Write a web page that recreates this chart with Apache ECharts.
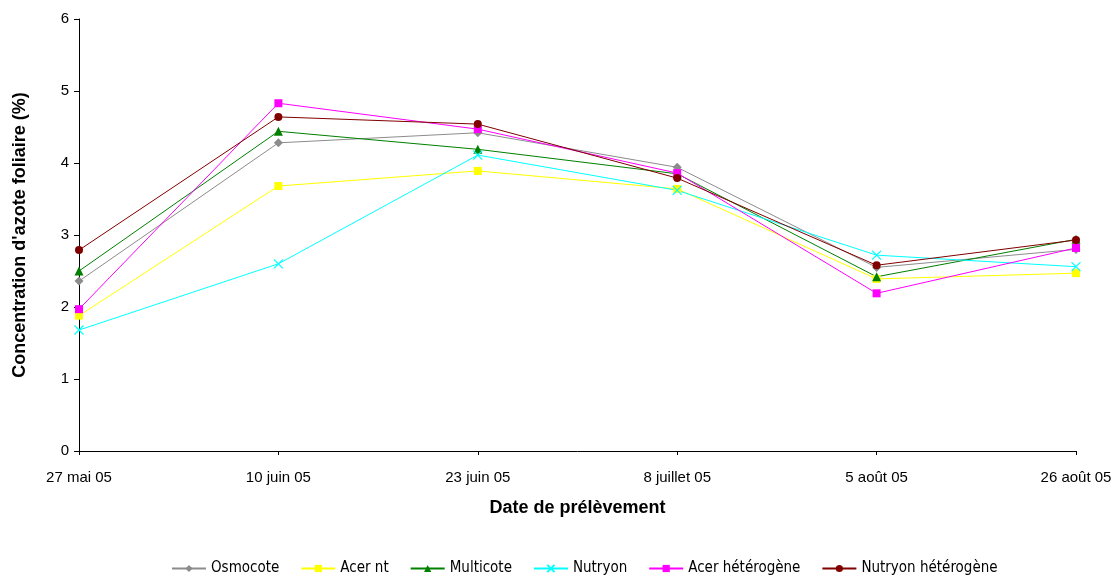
<!DOCTYPE html>
<html>
<head>
<meta charset="utf-8">
<script src="https://cdn.jsdelivr.net/npm/echarts@6/dist/echarts.min.js"></script>
<style>
html,body{margin:0;padding:0;background:#fff;}
#c{width:1118px;height:579px;}
</style>
</head>
<body>
<div id="c"></div>
<script>
const categories = ['27 mai 05', '10 juin 05', '23 juin 05', '8 juillet 05', '5 août 05', '26 août 05'];
const osmocote = [2.36, 4.28, 4.42, 3.94, 2.55, 2.80];
const acerNt = [1.88, 3.68, 3.89, 3.64, 2.39, 2.47];
const multicote = [2.50, 4.44, 4.19, 3.85, 2.42, 2.94];
const nutryon = [1.68, 2.60, 4.11, 3.62, 2.72, 2.56];
const acerHet = [1.97, 4.83, 4.47, 3.86, 2.19, 2.82];
const nutryonHet = [2.79, 4.64, 4.54, 3.79, 2.58, 2.93];
const yTicks = [0, 1, 2, 3, 4, 5, 6];

const font = 'Liberation Sans, Arial, sans-serif';
const narrow = 'Liberation Sans Narrow, DejaVu Sans Condensed, Liberation Sans, sans-serif';
function mk(name, data, color, symbol, size, extra) {
  return Object.assign({
    name: name, type: 'line', data: data,
    symbol: symbol, symbolSize: size, showSymbol: true,
    lineStyle: { color: color, width: 1 },
    itemStyle: { color: color, borderColor: color, borderWidth: 0 },
    emphasis: { disabled: true },
    animation: false
  }, extra || {});
}
const xPath = 'path://M0,0L10,10M10,0L0,10';
const series = [
  mk('Osmocote', osmocote, '#8c8c8c', 'diamond', 9),
  mk('Acer nt', acerNt, '#ffff00', 'rect', 8),
  mk('Multicote', multicote, '#008000', 'triangle', 9),
  mk('Nutryon', nutryon, '#00ffff', xPath, 9, { itemStyle: { color: 'none', borderColor: '#00ffff', borderWidth: 1.2 } }),
  mk('Acer hétérogène', acerHet, '#ff00ff', 'rect', 8),
  mk('Nutryon hétérogène', nutryonHet, '#800000', 'circle', 8)
];

const chart = echarts.init(document.getElementById('c'), null, { renderer: 'canvas' });
chart.setOption({
  backgroundColor: '#ffffff',
  animation: false,
  grid: { left: 79, right: 42, top: 19, bottom: 128, containLabel: false },
  legend: {
    bottom: -2, left: 166,
    itemWidth: 34, itemHeight: 9, itemGap: 21,
    textStyle: { fontFamily: narrow, fontSize: 15, color: '#000' },
    data: series.map(s => s.name)
  },
  xAxis: {
    type: 'category', data: categories, boundaryGap: false,
    name: 'Date de prélèvement', nameLocation: 'middle', nameGap: 48,
    nameTextStyle: { fontFamily: font, fontSize: 18, fontWeight: 'bold', color: '#000' },
    axisLine: { lineStyle: { color: '#000', width: 1 } },
    axisTick: { show: true, inside: false, length: 4, lineStyle: { color: '#000' } },
    axisLabel: { fontFamily: font, fontSize: 15, color: '#000', margin: 19, interval: 0 },
    splitLine: { show: false }
  },
  yAxis: {
    type: 'value', min: 0, max: 6, interval: 1,
    name: "Concentration d'azote foliaire (%)", nameLocation: 'middle', nameGap: 50,
    nameTextStyle: { fontFamily: font, fontSize: 18, fontWeight: 'bold', color: '#000' },
    axisLine: { show: true, lineStyle: { color: '#000', width: 1 } },
    axisTick: { show: true, inside: false, length: 5, lineStyle: { color: '#000' } },
    axisLabel: { fontFamily: font, fontSize: 15, color: '#000', margin: 10,
      formatter: v => yTicks.includes(v) ? String(v) : '' },
    splitLine: { show: false }
  },
  series: series
});
</script>
</body>
</html>
